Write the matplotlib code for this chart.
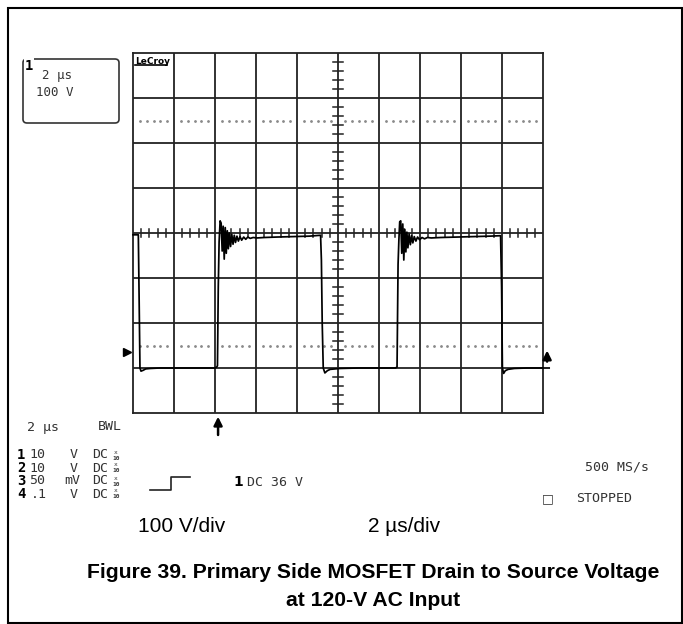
import numpy as np
import matplotlib.pyplot as plt
from matplotlib.patches import Rectangle, FancyBboxPatch

# ---- scope trace: time (us) and drain-source voltage (V, relative to screen centre)
trace_t = [0.00, 0.26, 0.30, 0.34, 0.39, 0.50, 0.62, 0.85, 1.30, 2.60, 4.00, 4.08,
           4.12, 4.16, 4.20, 4.25, 4.30, 4.35, 4.40, 4.45, 4.50, 4.55, 4.60, 4.65,
           4.70, 4.76, 4.82, 4.88, 4.94, 5.00, 5.07, 5.14, 5.22, 5.30, 5.40, 5.50,
           5.60, 5.72, 5.86, 6.05, 6.40, 7.00, 7.80, 8.60, 9.15,
           9.19, 9.23, 9.28, 9.36, 9.48, 9.62, 10.10, 11.00, 12.80, 12.88,
           12.93, 12.97, 13.01, 13.06, 13.11, 13.16, 13.21, 13.26, 13.31, 13.36,
           13.41, 13.47, 13.53, 13.59, 13.65, 13.72, 13.80, 13.88, 13.98, 14.10,
           14.22, 14.36, 14.55, 15.00, 15.80, 16.60, 17.40, 17.93,
           17.98, 18.02, 18.08, 18.16, 18.30, 18.60, 19.20, 20.00, 20.30]
trace_v = [-4, -4, -150, -300, -307, -305, -302, -301, -300, -300, -300, -298,
           -295, -120, -20, 27, 22, -40, 15, -58, 12, -45, 5, -35,
           0, -30, -3, -25, -5, -21, -7, -18, -8, -16, -9, -14,
           -9, -12, -10, -11, -10, -9, -8, -7, -5,
           -60, -200, -300, -311, -306, -303, -301, -300, -300, -298,
           -70, -15, 25, 27, -45, 20, -60, 8, -42, 2,
           -33, -2, -26, -6, -22, -8, -18, -9, -15, -10,
           -13, -10, -11, -10, -9, -8, -7, -6,
           -120, -300, -312, -306, -303, -301, -300, -300, -300]

# ---- annotations
trigger_t = 4.15          # trigger position marker (bottom arrow)
ground_v = -264           # channel ground marker (left)
trig_level_v = -255       # trigger level marker (right)

channels = ["1", "2", "3", "4"]
ch_scale = ["10", "10", "50", ".1"]
ch_unit = ["V", "V", "mV", "V"]

W, H = 683, 624
fig = plt.figure(figsize=(W / 100, H / 100), dpi=100)
fig.patch.set_facecolor('white')


def fx(x):
    return x / W


def fy(y):
    return 1 - y / H


mono = 'DejaVu Sans Mono'
sc = '#333333'
fs = 9.5

# outer frame
fig.add_artist(Rectangle((fx(8), fy(623)), fx(674), 615 / H, transform=fig.transFigure,
                         fill=False, edgecolor='black', linewidth=1.5))

ax = fig.add_axes([fx(133), fy(413), fx(410), 360 / H])
ax.set_xlim(0, 20)
ax.set_ylim(-400, 400)
ax.set_xticks([])
ax.set_yticks([])
for s in ax.spines.values():
    s.set_linewidth(1.3)
    s.set_color('#222222')

# graticule
gcol = '#222222'
for xv in np.arange(2, 20, 2):
    ax.axvline(xv, color=gcol, lw=1.3, zorder=1)
for yv in np.arange(-300, 400, 100):
    ax.axhline(yv, color=gcol, lw=1.3, zorder=1)

# minor ticks on centre axes
for xv in np.arange(0, 20.01, 0.4):
    if abs(xv / 2 - round(xv / 2)) > 1e-6:
        ax.plot([xv, xv], [-9, 9], color=gcol, lw=1.1, zorder=1)
for yv in np.arange(-400, 400.1, 20):
    if abs(yv / 100 - round(yv / 100)) > 1e-6:
        ax.plot([9.78, 10.22], [yv, yv], color=gcol, lw=1.1, zorder=1)

# dotted reference lines
for yv in [250, -250]:
    xs = []
    for c in range(10):
        xs.extend([2 * c + 2 * k / 6 for k in range(1, 6)])
    ax.plot(xs, [yv] * len(xs), linestyle='none', marker='o', markersize=1.0,
            color='#8a8a8a', zorder=1)

# trace
ax.plot(trace_t, trace_v, color='black', lw=1.25, zorder=3, clip_on=False)

# markers
ax.plot([-0.3], [ground_v], marker='>', markersize=6, color='black', clip_on=False)
ax.annotate('', xy=(trigger_t, -402), xytext=(trigger_t, -455),
            arrowprops=dict(arrowstyle='-|>,head_width=0.25,head_length=0.5', lw=1.8, color='black'),
            annotation_clip=False)
ax.annotate('', xy=(20.2, trig_level_v), xytext=(20.2, -292),
            arrowprops=dict(arrowstyle='-|>,head_width=0.25,head_length=0.5', lw=1.8, color='black'),
            annotation_clip=False)

# LeCroy logo
ax.text(0.006, 0.99, 'LeCroy', transform=ax.transAxes, ha='left', va='top',
        fontsize=6.5, fontweight='bold', family='DejaVu Sans Condensed', color='black')
ax.plot([0.1, 1.65], [373, 373], color='black', lw=1.2, clip_on=False)

# top-left channel box
fig.add_artist(FancyBboxPatch((fx(23), fy(123)), fx(96), 64 / H,
                              boxstyle='round,pad=0,rounding_size=0.006',
                              transform=fig.transFigure, fill=False,
                              edgecolor='#333333', lw=1.2))
fig.text(fx(25), fy(66), '1', fontsize=10, fontweight='bold', family=mono,
         va='center', ha='left', bbox=dict(boxstyle='square,pad=0.05', fc='white', ec='none'))
fig.text(fx(42), fy(76), '2 µs', fontsize=9, family=mono, va='center', color=sc)
fig.text(fx(36), fy(93), '100 V', fontsize=9, family=mono, va='center', color=sc)

# bottom scope readout
fig.text(fx(27), fy(427), '2 µs', fontsize=fs, family=mono, va='center', color=sc)
fig.text(fx(98), fy(427), 'BWL', fontsize=fs, family=mono, va='center', color=sc)
row_y = [455, 468, 481, 494]
for ch, s, u, y in zip(channels, ch_scale, ch_unit, row_y):
    fig.text(fx(17), fy(y), ch, fontsize=10, fontweight='bold', family=mono, va='center')
    fig.text(fx(29) if s != '.1' else fx(31), fy(y), s, fontsize=fs,
             family=mono, va='center', color=sc)
    fig.text(fx(64 if u == 'mV' else 70), fy(y), u, fontsize=fs, family=mono, va='center', color=sc)
    fig.text(fx(92), fy(y), 'DC', fontsize=fs, family=mono, va='center', color=sc)
    fig.text(fx(116), fy(y - 3), 'x', fontsize=4.5, family=mono, va='center', ha='center', color=sc)
    fig.text(fx(116), fy(y + 3), '10', fontsize=4.5, family=mono, va='center', ha='center',
             color=sc, fontweight='bold')

# trigger step symbol
fig.add_artist(plt.Line2D([fx(150), fx(171), fx(171), fx(190)],
                          [fy(490), fy(490), fy(477), fy(477)],
                          transform=fig.transFigure, color='#222222', lw=1.2))
fig.text(fx(233), fy(482), '1', fontsize=10, fontweight='bold', family='DejaVu Sans', va='center')
fig.text(fx(247), fy(482), 'DC 36 V', fontsize=fs, family=mono, va='center', color=sc)

fig.text(fx(585), fy(467), '500 MS/s', fontsize=fs, family=mono, va='center', color=sc)
fig.text(fx(542), fy(499), '□', fontsize=9, family='DejaVu Sans', va='center', color=sc)
fig.text(fx(576), fy(499), 'STOPPED', fontsize=fs, family=mono, va='center', color=sc)

# division labels
fig.text(fx(138), fy(527), '100 V/div', fontsize=15, family='Liberation Sans', va='center')
fig.text(fx(368), fy(527), '2 µs/div', fontsize=15, family='Liberation Sans', va='center')

# caption
fig.text(fx(373), fy(572), 'Figure 39. Primary Side MOSFET Drain to Source Voltage',
         fontsize=15.2, fontweight='bold', family='Liberation Sans', ha='center', va='center')
fig.text(fx(373), fy(600), 'at 120-V AC Input',
         fontsize=15.2, fontweight='bold', family='Liberation Sans', ha='center', va='center')

plt.savefig('out.png', dpi=100)
